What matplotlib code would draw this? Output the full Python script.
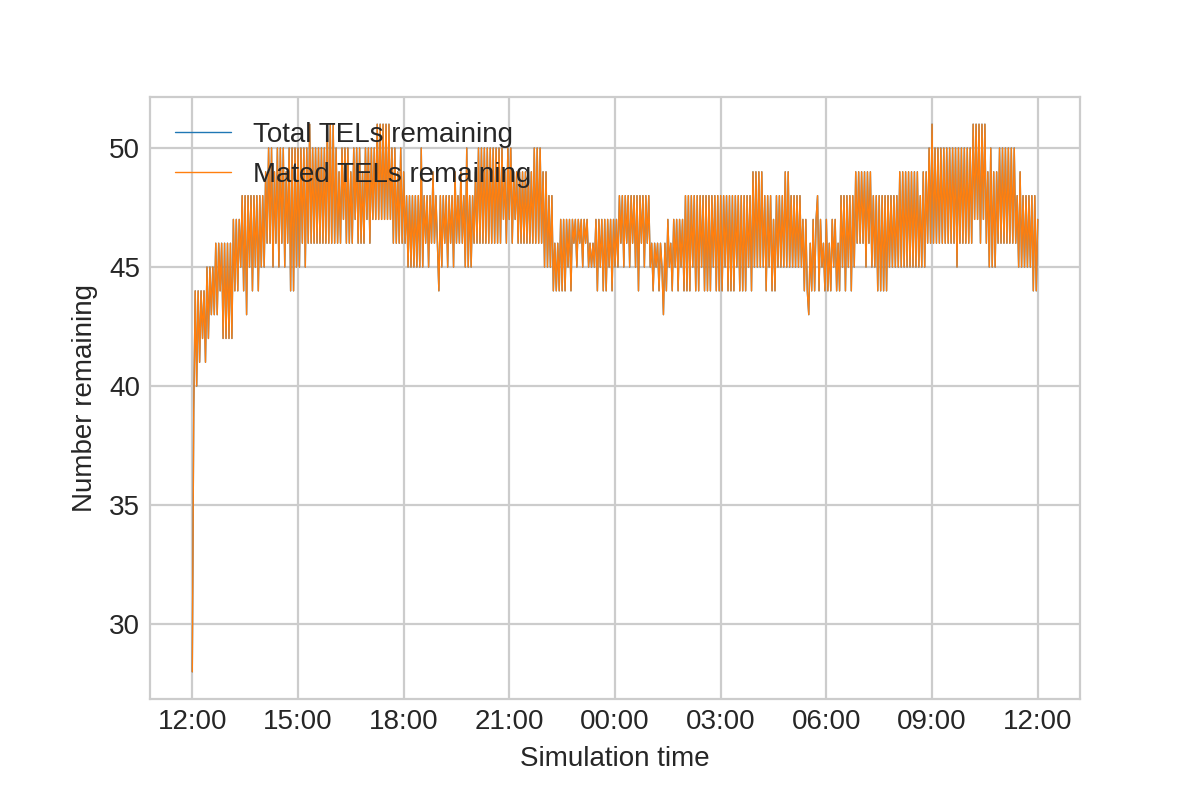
import matplotlib
matplotlib.use("Agg")
from matplotlib import pyplot as plt
import matplotlib.dates as mdates
import seaborn as sns
from datetime import datetime, timedelta

# one sample every 2.5 minutes, one row per simulated hour (starting 12:00)
total_tels = [
    28, 39, 44, 40, 44, 41, 44, 42, 44, 41, 45, 42, 45, 43, 45, 43, 46, 43, 46, 44, 46, 42, 46, 42,
    46, 42, 46, 42, 47, 44, 47, 44, 47, 45, 48, 44, 48, 43, 48, 45, 48, 44, 48, 45, 48, 44, 48, 45,
    48, 45, 49, 46, 50, 46, 50, 45, 49, 46, 50, 45, 50, 46, 50, 45, 49, 46, 50, 44, 50, 44, 50, 45,
    50, 45, 50, 46, 50, 45, 50, 46, 51, 46, 50, 46, 50, 46, 50, 46, 50, 46, 50, 46, 51, 46, 51, 46,
    51, 46, 50, 46, 49, 46, 50, 47, 50, 46, 50, 46, 49, 46, 50, 47, 50, 46, 50, 46, 49, 46, 50, 47,
    50, 46, 50, 47, 50, 47, 51, 47, 51, 47, 51, 47, 51, 47, 51, 47, 50, 46, 50, 46, 49, 46, 50, 46,
    49, 46, 48, 45, 48, 45, 48, 45, 48, 45, 48, 45, 50, 45, 48, 46, 48, 45, 48, 46, 49, 46, 48, 46,
    44, 48, 45, 48, 46, 48, 45, 48, 46, 48, 45, 49, 46, 48, 46, 49, 46, 48, 45, 50, 45, 48, 45, 48,
    46, 49, 46, 50, 46, 50, 46, 50, 46, 50, 46, 50, 46, 50, 46, 50, 46, 50, 46, 50, 47, 49, 46, 50,
    47, 50, 46, 49, 47, 49, 46, 49, 46, 49, 46, 49, 46, 49, 46, 49, 46, 50, 46, 50, 46, 50, 46, 49,
    45, 49, 45, 48, 45, 48, 44, 46, 44, 46, 44, 47, 44, 47, 44, 47, 45, 47, 44, 47, 46, 47, 45, 47,
    46, 47, 45, 47, 46, 47, 45, 46, 45, 46, 45, 47, 44, 47, 45, 47, 44, 47, 44, 47, 45, 47, 44, 47,
    45, 47, 45, 48, 46, 48, 45, 48, 46, 48, 45, 48, 46, 48, 45, 48, 44, 48, 46, 48, 45, 48, 46, 48,
    45, 46, 44, 46, 45, 46, 44, 46, 45, 43, 46, 44, 47, 45, 46, 44, 47, 45, 47, 44, 47, 45, 47, 44,
    48, 44, 48, 44, 48, 45, 48, 44, 48, 44, 48, 45, 48, 44, 48, 44, 48, 44, 48, 45, 48, 44, 48, 44,
    48, 44, 48, 45, 48, 44, 48, 44, 48, 44, 48, 45, 48, 44, 48, 44, 48, 44, 48, 45, 48, 44, 49, 45,
    49, 45, 49, 45, 49, 45, 48, 44, 48, 45, 48, 44, 47, 44, 48, 45, 48, 45, 48, 45, 49, 45, 49, 45,
    48, 45, 48, 45, 48, 45, 48, 45, 47, 44, 47, 44, 43, 46, 44, 47, 44, 47, 48, 44, 47, 45, 46, 44,
    47, 44, 46, 44, 47, 45, 47, 44, 46, 44, 48, 45, 48, 44, 48, 45, 48, 44, 48, 45, 49, 46, 49, 46,
    49, 46, 49, 45, 49, 46, 49, 45, 48, 45, 48, 44, 48, 44, 48, 44, 48, 44, 48, 45, 48, 45, 48, 45,
    48, 45, 49, 45, 49, 45, 49, 45, 49, 45, 49, 45, 49, 45, 49, 45, 48, 45, 49, 45, 49, 46, 50, 46,
    51, 46, 50, 46, 50, 46, 50, 46, 50, 46, 50, 46, 50, 46, 50, 46, 50, 45, 50, 46, 50, 46, 50, 46,
    50, 46, 50, 46, 51, 47, 51, 47, 51, 46, 51, 47, 51, 46, 49, 45, 50, 45, 49, 45, 49, 46, 50, 46,
    50, 46, 50, 46, 50, 46, 50, 46, 50, 46, 48, 45, 49, 45, 48, 45, 48, 45, 48, 45, 48, 44, 48, 44,
    47,
]
# mated count tracks the total exactly in this run
mated_tels = list(total_tels)

start = datetime(2024, 1, 1, 12, 0)
times = [start + timedelta(seconds=150 * i) for i in range(len(total_tels))]

sns.set_style("whitegrid")
plt.rcParams["font.family"] = ["Liberation Sans", "DejaVu Sans"]

fig, ax = plt.subplots(figsize=(6, 4), dpi=200)
fig.subplots_adjust(left=0.125, right=0.9, top=0.879, bottom=0.126)

ax.plot(times, total_tels, color="#1f77b4", linewidth=0.5, label="Total TELs remaining")
ax.plot(times, mated_tels, color="#ff7f0e", linewidth=0.5, label="Mated TELs remaining")

ax.xaxis.set_major_locator(mdates.HourLocator(byhour=range(0, 24, 3)))
ax.xaxis.set_major_formatter(mdates.DateFormatter("%H:%M"))
ax.tick_params(length=0)

ax.set_xlabel("Simulation time")
ax.set_ylabel("Number remaining")
ax.legend(loc="upper left", frameon=False)

plt.savefig("out.png")
plt.close(fig)
